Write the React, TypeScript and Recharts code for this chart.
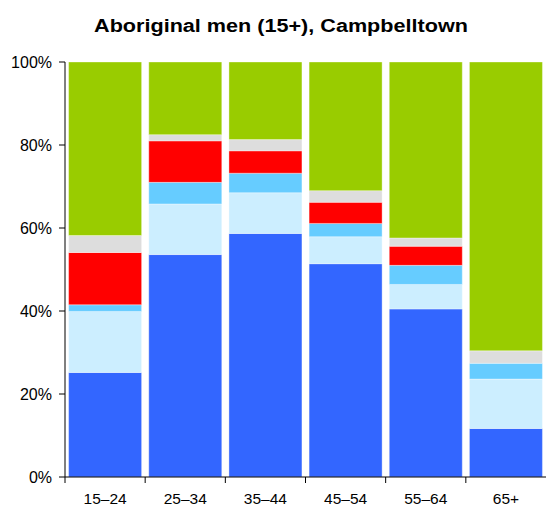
import { BarChart, Bar, XAxis, YAxis } from 'recharts';

const CATEGORIES = ['15–24', '25–34', '35–44', '45–54', '55–64', '65+'];

// shares in percent, bottom segment first
const SERIES_A = [25.2, 53.6, 58.7, 51.4, 40.5, 11.7];
const SERIES_B = [14.7, 12.2, 9.8, 6.5, 5.9, 11.9];
const SERIES_C = [1.6, 5.2, 4.7, 3.2, 4.6, 3.8];
const SERIES_D = [12.6, 10.0, 5.4, 5.1, 4.6, 0];
const SERIES_E = [4.1, 1.5, 2.7, 2.8, 2.0, 3.0];
const SERIES_F = [41.8, 17.5, 18.7, 31.0, 42.4, 69.6];

const Y_TICKS = [0, 20, 40, 60, 80, 100];

const COLORS = ['#3366ff', '#cceeff', '#66ccff', '#ff0000', '#dddddd', '#99cc00'];
const KEYS = ['a', 'b', 'c', 'd', 'e', 'f'];

const data = CATEGORIES.map((name, i) => ({
  name,
  a: SERIES_A[i],
  b: SERIES_B[i],
  c: SERIES_C[i],
  d: SERIES_D[i],
  e: SERIES_E[i],
  f: SERIES_F[i],
}));

const WIDTH = 546;
const HEIGHT = 506;
const AXIS_W = 65;
const BAND = (WIDTH - AXIS_W) / CATEGORIES.length;

const font = 'Arial, "Liberation Sans", Helvetica, sans-serif';

// label in the middle of the band, tick mark at the band's left edge
function CategoryTick(props: any) {
  const { x, y, payload } = props;
  const left = x - BAND / 2;
  return (
    <g>
      <line x1={left} y1={y - 10} x2={left} y2={y - 4} stroke="#000" strokeWidth={1} />
      <text x={x} y={y + 6} dy="0.71em" textAnchor="middle" fontSize={15.5} fill="#000" fontFamily={font}>
        {payload.value}
      </text>
    </g>
  );
}

export default function App() {
  return (
    <div style={{ position: 'absolute', left: 0, top: 0, width: WIDTH, height: HEIGHT, background: '#fff' }}>
      <div
        style={{
          position: 'absolute',
          left: 16,
          top: 16.5,
          width: 530,
          textAlign: 'center',
          fontFamily: font,
          fontWeight: 'bold',
          fontSize: 18,
          lineHeight: '18px',
          color: '#000',
          transform: 'scaleX(1.2)',
          transformOrigin: '265px 0',
        }}
      >
        Aboriginal men (15+), Campbelltown
      </div>
      <BarChart
        width={WIDTH}
        height={HEIGHT}
        data={data}
        margin={{ top: 62, right: 0, bottom: 0, left: 0 }}
        barCategoryGap="4.5%"
      >
        <XAxis
          dataKey="name"
          height={29}
          tickLine={false}
          tickMargin={0}
          tickSize={10}
          axisLine={{ stroke: '#000', strokeWidth: 1 }}
          tick={<CategoryTick />}
          interval={0}
        />
        <YAxis
          width={AXIS_W}
          domain={[0, 100]}
          ticks={Y_TICKS}
          tickFormatter={(v: number) => `${v}%`}
          tickSize={6}
          tickMargin={7}
          axisLine={{ stroke: '#000', strokeWidth: 1 }}
          tickLine={{ stroke: '#000' }}
          tick={{ fill: '#000', fontSize: 16, fontFamily: font }}
          allowDataOverflow
        />
        {KEYS.map((k, i) => (
          <Bar
            key={k}
            dataKey={k}
            stackId="s"
            fill={COLORS[i]}
            stroke="#ffffff"
            strokeOpacity={0.35}
            strokeWidth={1}
            isAnimationActive={false}
          />
        ))}
      </BarChart>
    </div>
  );
}
